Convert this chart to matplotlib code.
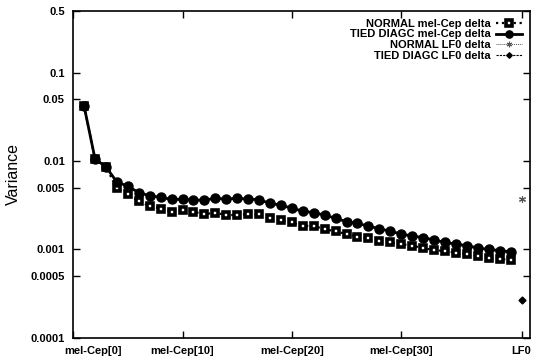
import matplotlib
matplotlib.use("Agg")
import matplotlib.pyplot as plt
import matplotlib.transforms as mtransforms
from matplotlib.ticker import NullLocator

plt.rcParams["font.family"] = ["Liberation Sans", "DejaVu Sans"]

# Feature index: mel-Cep coefficients at 1..40, LF0 at 41
cep_idx = list(range(1, 41))
lf0_idx = [41]

normal_cep = [0.042, 0.0106, 0.0086, 0.0049, 0.0042, 0.0035, 0.0031, 0.0029, 0.00267, 0.00279,
              0.00267, 0.00251, 0.0026, 0.00245, 0.00245, 0.00251, 0.0025, 0.00225, 0.00215, 0.00202,
              0.00185, 0.00184, 0.0017, 0.0016, 0.00149, 0.00139, 0.00133, 0.00125, 0.0012, 0.00115,
              0.0011, 0.00104, 0.00098, 0.00096, 0.00092, 0.00089, 0.00084, 0.00079, 0.00078, 0.00076]
tied_cep = [0.042, 0.0106, 0.0086, 0.0058, 0.0052, 0.0044, 0.00405, 0.0039, 0.00368, 0.0037,
            0.00362, 0.00362, 0.00379, 0.00372, 0.00379, 0.00372, 0.00366, 0.00332, 0.00318, 0.00292,
            0.00272, 0.0026, 0.00245, 0.00225, 0.00206, 0.00197, 0.00184, 0.00171, 0.00161, 0.00149,
            0.00142, 0.00136, 0.00128, 0.0012, 0.00115, 0.0011, 0.00104, 0.001, 0.00097, 0.00094]
normal_lf0 = [0.0037]
tied_lf0 = [0.00027]

xtick_pos = [0, 10, 20, 30, 41]
xtick_labels = ["mel-Cep[0]", "mel-Cep[10]", "mel-Cep[20]", "mel-Cep[30]", "LF0"]
ytick_pos = [0.5, 0.1, 0.05, 0.01, 0.005, 0.001, 0.0005, 0.0001]
ytick_labels = ["0.5", "0.1", "0.05", "0.01", "0.005", "0.001", "0.0005", "0.0001"]

fig = plt.figure(figsize=(5.34, 3.6), dpi=100)
ax = fig.add_axes([0.137, 0.062, 0.856, 0.907])

ax.plot(cep_idx, normal_cep, linestyle=":", linewidth=1.6, color="black",
        marker="s", markersize=5, markerfacecolor="white", markeredgewidth=2.6,
        label="NORMAL mel-Cep delta")
ax.plot(cep_idx, tied_cep, linestyle="-", linewidth=2.0, color="black",
        marker="o", markersize=6.5, label="TIED DIAGC mel-Cep delta")
ax.plot(lf0_idx, normal_lf0, linestyle=(0, (1, 1)), linewidth=0.7, color="#555555",
        marker=(6, 2, 0), markersize=5, markeredgewidth=0.8, label="NORMAL LF0 delta")
ax.plot(lf0_idx, tied_lf0, linestyle=(0, (2, 1)), linewidth=0.8, color="black",
        marker="D", markersize=3.5, label="TIED DIAGC LF0 delta")

ax.set_yscale("log")
ax.set_ylim(0.0001, 0.5)
ax.set_xlim(0, 41.8)
ax.set_yticks(ytick_pos)
ax.set_yticklabels(ytick_labels)
ax.yaxis.set_minor_locator(NullLocator())
ax.set_xticks(xtick_pos)
ax.set_xticklabels(xtick_labels)
ax.tick_params(direction="in", length=5, width=1, top=True, right=True,
               labelsize=8, pad=6)
for lbl in ax.get_xticklabels() + ax.get_yticklabels():
    lbl.set_fontweight("bold")
for s in ax.spines.values():
    s.set_linewidth(1.2)

ax.set_ylabel("Variance", fontsize=11.5, labelpad=7)

# first x label sits to the right of its tick, as in the original
first = ax.get_xticklabels()[0]
first.set_transform(first.get_transform() +
                    mtransforms.ScaledTranslation(0.2, 0, fig.dpi_scale_trans))

ax.legend(loc="upper right", frameon=False, markerfirst=False, numpoints=1,
          prop={"size": 8, "weight": "bold"}, labelspacing=0.05, markerscale=0.8,
          handlelength=2.4, handletextpad=0.5, borderaxespad=0.3)

fig.savefig("out.png", dpi=100)
